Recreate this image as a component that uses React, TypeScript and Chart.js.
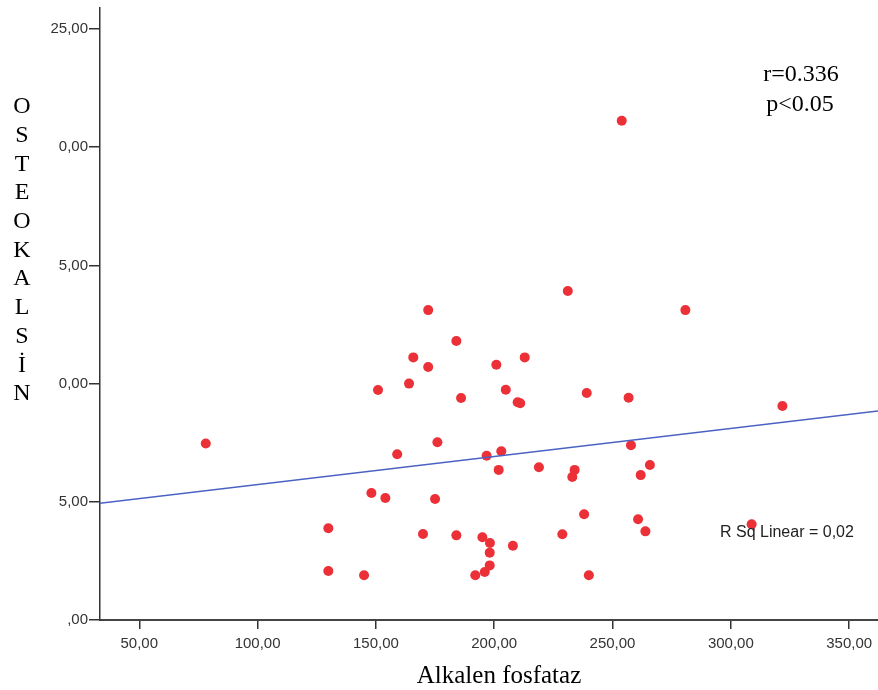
import React, { useEffect, useRef } from "react";
import { Chart, registerables } from "chart.js";

Chart.register(...registerables);

// Alkalen fosfataz (x) and Osteokalsin (y) values
const alkalenFosfataz = [
  78.1, 129.9, 129.9, 145.0, 148.1, 150.9, 154.0, 159.0, 164.0, 165.8,
  169.9, 172.1, 172.1, 175.0, 176.0, 184.0, 184.0, 186.0, 192.0, 195.0,
  196.0, 196.8, 198.2, 198.1, 198.1, 200.9, 201.9, 203.0, 204.9, 207.9,
  209.9, 211.0, 212.9, 218.9, 228.8, 231.1, 233.0, 234.0, 238.0, 239.1,
  240.0, 253.9, 256.8, 257.8, 260.8, 261.9, 263.9, 265.8, 280.8, 308.8,
  321.8,
];
const osteokalsin = [
  7.47, 3.88, 2.07, 1.89, 5.37, 9.73, 5.16, 7.01, 10.0, 11.11,
  3.64, 13.11, 10.7, 5.12, 7.52, 3.58, 11.8, 9.39, 1.89, 3.5,
  2.03, 6.95, 3.26, 2.85, 2.31, 10.8, 6.35, 7.14, 9.74, 3.14,
  9.21, 9.17, 11.11, 6.46, 3.63, 13.92, 6.05, 6.35, 4.47, 9.6,
  1.89, 21.12, 9.4, 7.39, 4.26, 6.13, 3.75, 6.56, 13.11, 4.05,
  9.05,
];

// Linear fit line (as drawn in the reference)
const fitIntercept = 4.544;
const fitSlope = 0.01186;

const xMin = 33.4;
const xMax = 362.2;
const yMin = 0;
const yMax = 25.89;

const xTickValues = [50, 100, 150, 200, 250, 300, 350];
const xTickLabels = ["50,00", "100,00", "150,00", "200,00", "250,00", "300,00", "350,00"];
const yTickValues = [0, 5, 10, 15, 20, 25];
const yTickLabels = [",00", "5,00", "0,00", "5,00", "0,00", "25,00"];

const yTitleLetters = ["O", "S", "T", "E", "O", "K", "A", "L", "S", "İ", "N"];
const xTitle = "Alkalen fosfataz";
const statLines = ["r=0.336", "p<0.05"];
const rSqText = "R Sq Linear = 0,02";

const textPlugin = {
  id: "customText",
  afterDraw(chart: any) {
    const ctx = chart.ctx;
    ctx.save();
    ctx.fillStyle = "#000";
    ctx.textAlign = "center";
    ctx.textBaseline = "middle";
    ctx.font = '24px "Liberation Serif", "Times New Roman", serif';
    yTitleLetters.forEach((ch, i) => {
      ctx.fillText(ch, 22, 107 + i * 28.7);
    });
    ctx.fillText(statLines[0], 801, 75);
    ctx.fillText(statLines[1], 800, 105);
    ctx.font = '25px "Liberation Serif", "Times New Roman", serif';
    ctx.fillText(xTitle, 499, 676);
    ctx.font = '16px "Liberation Sans", Arial, sans-serif';
    ctx.fillStyle = "#222";
    ctx.textAlign = "left";
    ctx.fillText(rSqText, 720, 533);
    ctx.restore();
  },
};

export default function App() {
  const ref = useRef<HTMLCanvasElement | null>(null);

  useEffect(() => {
    document.body.style.margin = "0";
    const canvas = ref.current;
    if (!canvas) return;
    const points = alkalenFosfataz.map((x, i) => ({ x, y: osteokalsin[i] }));
    const fit = [
      { x: xMin, y: fitIntercept + fitSlope * xMin },
      { x: xMax, y: fitIntercept + fitSlope * xMax },
    ];
    const chart = new Chart(canvas, {
      type: "scatter",
      data: {
        datasets: [
          {
            type: "line",
            data: fit,
            borderColor: "#4a62c4",
            borderWidth: 1.5,
            pointRadius: 0,
            fill: false,
          } as any,
          {
            data: points,
            backgroundColor: "#ec3037",
            borderWidth: 0,
            pointRadius: 5,
          },
        ],
      },
      options: {
        responsive: false,
        animation: false,
        layout: { autoPadding: false, padding: { top: 8, right: 0, left: 0, bottom: 0 } },
        plugins: {
          legend: { display: false },
          tooltip: { enabled: false },
        },
        scales: {
          x: {
            type: "linear",
            min: xMin,
            max: xMax,
            afterBuildTicks: (scale: any) => {
              scale.ticks = xTickValues.map((v) => ({ value: v }));
            },
            afterFit: (scale: any) => {
              scale.height = 70;
              scale.paddingLeft = 0;
              scale.paddingRight = 0;
            },
            grid: {
              display: true,
              drawOnChartArea: false,
              drawTicks: true,
              tickLength: 9,
              color: "#333",
              lineWidth: 1.5,
            },
            border: { display: true, color: "#444", width: 2 },
            ticks: {
              padding: 6,
              color: "#333",
              font: { family: '"Liberation Sans", Arial, sans-serif', size: 15 },
              maxRotation: 0,
              autoSkip: false,
              callback: (v: any) => {
                const i = xTickValues.indexOf(Number(v));
                return i >= 0 ? xTickLabels[i] : "";
              },
            },
          },
          y: {
            type: "linear",
            min: yMin,
            max: yMax,
            afterBuildTicks: (scale: any) => {
              scale.ticks = yTickValues.map((v) => ({ value: v }));
            },
            afterFit: (scale: any) => {
              scale.width = 100;
              scale.paddingTop = 0;
              scale.paddingBottom = 0;
            },
            grid: {
              display: true,
              drawOnChartArea: false,
              drawTicks: true,
              tickLength: 11,
              color: "#333",
              lineWidth: 1.5,
            },
            border: { display: true, color: "#333", width: 1.5 },
            ticks: {
              padding: 1,
              color: "#333",
              font: { family: '"Liberation Sans", Arial, sans-serif', size: 15 },
              autoSkip: false,
              callback: (v: any) => {
                const i = yTickValues.indexOf(Number(v));
                return i >= 0 ? yTickLabels[i] : "";
              },
            },
          },
        },
      },
      plugins: [textPlugin],
    });
    return () => chart.destroy();
  }, []);

  return (
    <div style={{ position: "absolute", left: 0, top: 0, width: 878, height: 690, background: "#fff" }}>
      <canvas ref={ref} width={878} height={690} />
    </div>
  );
}
